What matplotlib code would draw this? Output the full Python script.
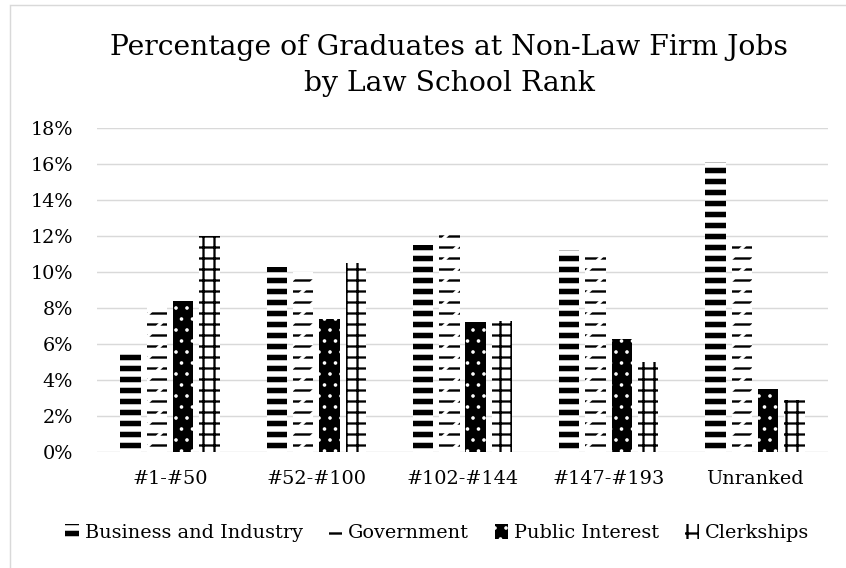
import numpy as np
import matplotlib
matplotlib.use('Agg')
import matplotlib.pyplot as plt
from matplotlib.patches import Rectangle

# data (percent of graduates)
categories = ['#1-#50', '#52-#100', '#102-#144', '#147-#193', 'Unranked']
business = [5.6, 10.3, 11.5, 11.2, 16.1]
government = [8.1, 10.0, 12.5, 11.2, 11.9]
public_interest = [8.4, 7.4, 7.2, 6.3, 3.5]
clerkships = [12.0, 10.5, 7.3, 5.0, 2.9]
series_names = ['Business and Industry', 'Government', 'Public Interest', 'Clerkships']
yticks = [0, 2, 4, 6, 8, 10, 12, 14, 16, 18]

plt.rcParams['font.family'] = ['DejaVu Serif']

DPI = 66
W, H = 846, 568
fig = plt.figure(figsize=(W / DPI, H / DPI), dpi=DPI)
ax = fig.add_axes([97 / W, 1 - 452 / H, (828 - 97) / W, (452 - 128) / H])

x = np.arange(len(categories))
step = 0.18
width = 0.14
hatch_lw = [6.0, 2.6, 1.5, 2.5]

with plt.rc_context({'hatch.linewidth': hatch_lw[0]}):
    b1 = ax.bar(x - 1.5 * step, business, width, facecolor='white', edgecolor='black',
                linewidth=0, hatch='-', label=series_names[0], zorder=3)
with plt.rc_context({'hatch.linewidth': hatch_lw[1]}):
    b2 = ax.bar(x - 0.5 * step, government, width, facecolor='white', edgecolor='black',
                linewidth=0, hatch='-', label=series_names[1], zorder=3)
with plt.rc_context({'hatch.linewidth': 3.5}):
    ax.bar(x - 0.5 * step, government, width, facecolor='none', edgecolor='white',
           linewidth=0, hatch='/', label='_nolegend_', zorder=4)
with plt.rc_context({'hatch.linewidth': hatch_lw[2]}):
    b3 = ax.bar(x + 0.5 * step, public_interest, width, facecolor='black', edgecolor='white',
                linewidth=0, hatch='.', label=series_names[2], zorder=3)
with plt.rc_context({'hatch.linewidth': hatch_lw[3]}):
    b4 = ax.bar(x + 1.5 * step, clerkships, width, facecolor='white', edgecolor='black',
                linewidth=0, hatch='+', label=series_names[3], zorder=3)

ax.set_xlim(-0.5, len(categories) - 0.5)
ax.set_ylim(0, 18)
ax.set_yticks(yticks)
ax.set_yticklabels([f'{v}%' for v in yticks])
ax.set_xticks(x)
ax.set_xticklabels(categories)
ax.tick_params(axis='both', length=0, labelsize=21)
ax.tick_params(axis='y', pad=26)
ax.tick_params(axis='x', pad=20)
ax.grid(axis='y', color='#d9d9d9', linewidth=1.6, zorder=0)
ax.set_axisbelow(True)
for s in ax.spines.values():
    s.set_visible(False)

fig.text(449 / W, 1 - 55 / H, 'Percentage of Graduates at Non-Law Firm Jobs',
         ha='center', va='baseline', fontsize=30.8)
fig.text(449 / W, 1 - 91 / H, 'by Law School Rank',
         ha='center', va='baseline', fontsize=30.8)

leg = fig.legend(handles=[b1, b2, b3, b4], loc='center', bbox_to_anchor=(437 / W, 1 - 533 / H),
                 ncol=4, frameon=False, fontsize=21, handlelength=0.7, handleheight=0.85,
                 handletextpad=0.3, columnspacing=1.35, borderpad=0.2)
# legend handles are new patches, give them the same hatch weight as the bars
for p, lw in zip(leg.get_patches(), hatch_lw):
    if hasattr(p, 'set_hatch_linewidth'):
        p.set_hatch_linewidth(lw)
    else:
        p._hatch_linewidth = lw

# chart border
fig.patches.append(Rectangle((10 / W, -0.1), 1.2, 1 - 5 / H + 0.1, transform=fig.transFigure,
                             fill=False, edgecolor='#d9d9d9', linewidth=1.6))

fig.savefig('out.png', dpi=DPI)
